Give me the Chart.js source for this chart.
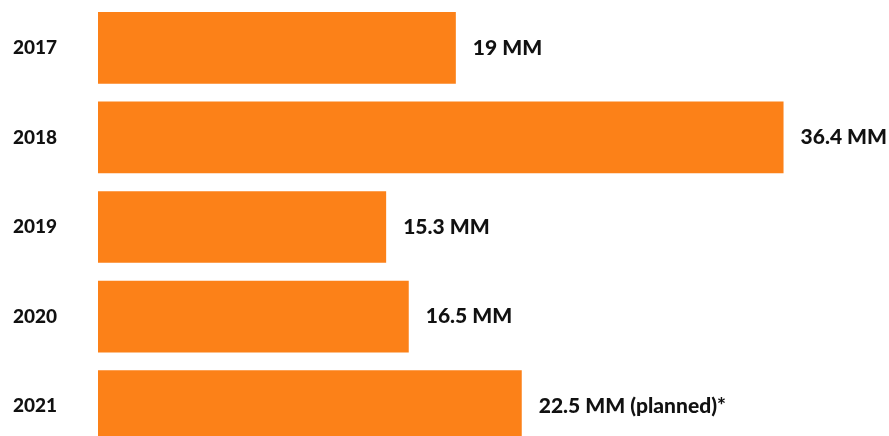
<!DOCTYPE html>
<html lang="en">
  <head>
    <meta charset="UTF-8" />
    <title>Yearly volume</title>
    <script src="https://cdn.jsdelivr.net/npm/chart.js"></script>
    <style>
      html, body {
        margin: 0;
        padding: 0;
        background: #ffffff;
        overflow: hidden;
      }
      #wrap {
        position: relative;
        width: 889px;
        height: 451px;
      }
    </style>
  </head>
  <body>
    <div id="wrap">
      <canvas id="barChart"></canvas>
    </div>

    <script>
      // data
      const years = ["2017", "2018", "2019", "2020", "2021"];
      const volumes = [19, 36.4, 15.3, 16.5, 22.5];
      const valueLabels = ["19 MM", "36.4 MM", "15.3 MM", "16.5 MM", "22.5 MM (planned)*"];

      const ORANGE = "#fc8118";
      const FONT = "Lato, 'Open Sans', sans-serif";

      // draws the text just past the end of each bar
      const barEndLabels = {
        id: "barEndLabels",
        afterDatasetsDraw(chart) {
          const ctx = chart.ctx;
          const meta = chart.getDatasetMeta(0);
          ctx.save();
          ctx.font = "900 21px " + FONT;
          ctx.fillStyle = "#111111";
          ctx.textAlign = "left";
          ctx.textBaseline = "middle";
          meta.data.forEach((bar, i) => {
            ctx.fillText(valueLabels[i], bar.x + 17, bar.y);
          });
          ctx.restore();
        },
      };

      new Chart(document.getElementById("barChart"), {
        type: "bar",
        data: {
          labels: years,
          datasets: [
            {
              data: volumes,
              backgroundColor: ORANGE,
              borderWidth: 0,
              barPercentage: 0.8,
              categoryPercentage: 1.0,
            },
          ],
        },
        options: {
          indexAxis: "y",
          responsive: true,
          maintainAspectRatio: false,
          devicePixelRatio: 1,
          animation: false,
          layout: {
            padding: {top: 3, right: 0, bottom: 0, left: 13},
          },
          scales: {
            x: {
              display: false,
              min: 0,
              max: 42,
            },
            y: {
              grid: {display: false, drawTicks: false},
              border: {display: false},
              afterFit(scale) {
                scale.width = 85;
                scale.paddingTop = 0;
                scale.paddingBottom = 0;
              },
              ticks: {
                crossAlign: "far",
                padding: 0,
                color: "#111111",
                font: {family: FONT, size: 19, weight: "900"},
              },
            },
          },
          plugins: {
            legend: {display: false},
            tooltip: {enabled: false},
          },
        },
        plugins: [barEndLabels],
      });
    </script>
  </body>
</html>
